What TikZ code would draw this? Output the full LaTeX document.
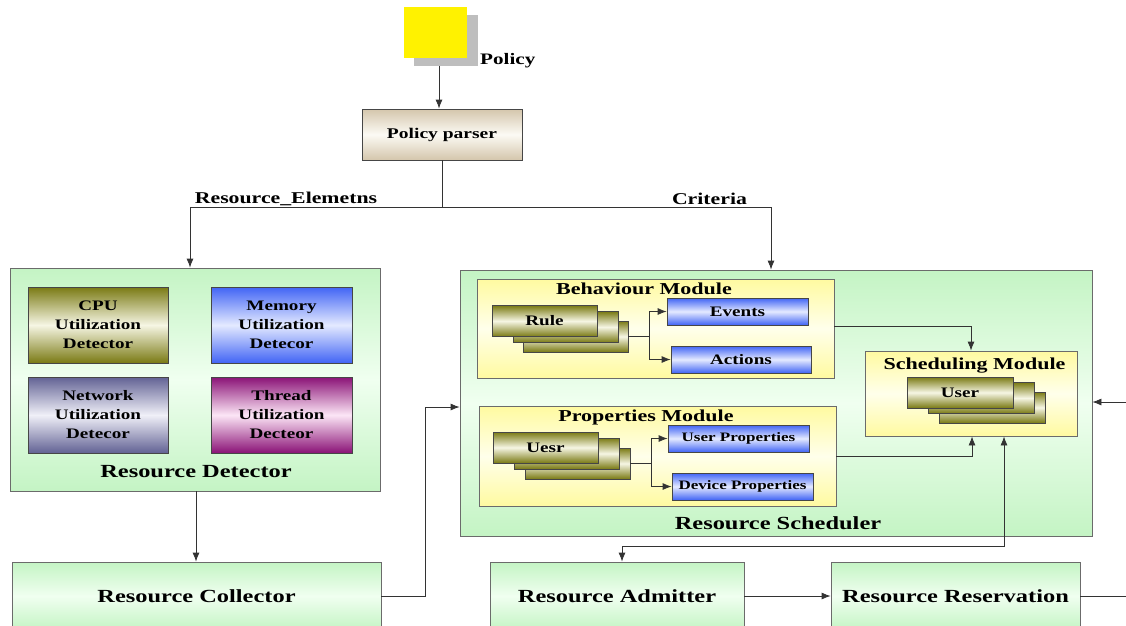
\documentclass[tikz,border=0pt]{standalone}
\usepackage{fontspec}
\setmainfont{Liberation Serif}[FakeStretch=1.32]
\usetikzlibrary{arrows.meta,calc}
\definecolor{GL}{RGB}{196,244,196}
\definecolor{GW}{RGB}{240,255,240}
\definecolor{YL}{RGB}{255,250,160}
\definecolor{YW}{RGB}{255,255,235}
\definecolor{OL}{RGB}{122,122,20}
\definecolor{OW}{RGB}{246,246,228}
\definecolor{BL}{RGB}{65,100,245}
\definecolor{BW}{RGB}{228,234,255}
\definecolor{NL}{RGB}{98,98,148}
\definecolor{NW}{RGB}{240,240,248}
\definecolor{TL}{RGB}{138,18,118}
\definecolor{TW}{RGB}{252,230,246}
\definecolor{PL}{RGB}{212,198,172}
\definecolor{PW}{RGB}{252,250,244}
\definecolor{BD}{RGB}{70,70,70}
\definecolor{SH}{RGB}{190,190,190}
\newcommand\fsbig{\fontsize{18.5}{20}\selectfont}
\newcommand\fsttl{\fontsize{16.7}{18}\selectfont}
\newcommand\fslab{\fontsize{16.5}{18}\selectfont}
\newcommand\fssm{\fontsize{14.5}{17}\selectfont}
\newcommand\fsdet{\fontsize{14.5}{19}\selectfont}
\newcommand\fstiny{\fontsize{12.9}{14}\selectfont}
\tikzset{
  bx/.style={inner sep=0pt, align=center, font=\bfseries},
  grn/.style={bx, draw=BD!80, line width=0.8pt, top color=GL, bottom color=GL, middle color=GW},
  ylw/.style={bx, draw=BD!80, line width=0.8pt, top color=YL, bottom color=YL, middle color=YW},
  olv/.style={bx, draw=BD, line width=0.8pt, top color=OL, bottom color=OL, middle color=OW},
  blu/.style={bx, draw=BD, line width=0.8pt, top color=BL, bottom color=BL, middle color=BW},
  nwk/.style={bx, draw=BD, line width=0.8pt, top color=NL, bottom color=NL, middle color=NW},
  thr/.style={bx, draw=BD, line width=0.8pt, top color=TL, bottom color=TL, middle color=TW},
  prs/.style={bx, draw=BD, line width=0.8pt, top color=PL, bottom color=PL, middle color=PW},
  stk/.style={olv, minimum width=105pt, minimum height=31pt},
  ln/.style={line width=0.8pt, draw=black!80},
  arr/.style={ln, -{Latex[length=9pt,width=7pt]}},
  darr/.style={ln, {Latex[length=9pt,width=7pt]}-{Latex[length=9pt,width=7pt]}},
  txt/.style={inner sep=0pt, font=\bfseries}
}
\begin{document}
\begin{tikzpicture}[x=1pt,y=-1pt]
\useasboundingbox (0,0) rectangle (1126,625);
\clip (0,0) rectangle (1126,625);
\fill[white] (0,0) rectangle (1126,625);

% Policy
\node[fill=SH, minimum width=64pt, minimum height=51pt, inner sep=0pt] (psh) at (446,40.5) {};
\node[fill=yellow, minimum width=63pt, minimum height=51pt, inner sep=0pt] (pol) at (435.5,32.5) {};
\node[txt, anchor=base west, font=\bfseries\fontsize{16}{18}\selectfont] (pollab) at (480,64) {Policy};
\node[prs, minimum width=160pt, minimum height=51pt, font=\bfseries\fontsize{14.8}{17}\selectfont] (par) at (442,134.5) {Policy parser};

% Resource Detector
\node[grn, minimum width=370pt, minimum height=223pt] (det) at (195,379.5) {};
\node[olv, minimum width=140pt, minimum height=76pt, font=\bfseries\fsdet] (cpu) at (98,325) {CPU\\Utilization\\Detector};
\node[blu, minimum width=141pt, minimum height=76pt, font=\bfseries\fsdet] (mem) at (281.5,325) {Memory\\Utilization\\Detecor};
\node[nwk, minimum width=140pt, minimum height=76pt, font=\bfseries\fsdet] (net) at (98,415) {Network\\Utilization\\Detecor};
\node[thr, minimum width=141pt, minimum height=76pt, font=\bfseries\fsdet] (thd) at (281.5,415) {Thread\\Utilization\\Decteor};
\node[txt, font=\bfseries\fsbig] (detlab) at (196,472) {Resource Detector};

% Resource Scheduler
\node[grn, minimum width=632pt, minimum height=266pt] (sch) at (776,403) {};
\node[txt, font=\bfseries\fsbig] (schlab) at (778,523) {Resource Scheduler};

% Behaviour module
\node[ylw, minimum width=357pt, minimum height=99pt] (beh) at (655.5,328.5) {};
\node[txt, anchor=base, font=\bfseries\fsttl] (behlab) at (644,294) {Behaviour Module};
\node[stk] (r3) at (575.5,336.5) {};
\node[stk] (r2) at (565.5,327) {};
\node[stk, font=\bfseries\fssm] (r1) at (544.5,321) {Rule};
\node[blu, minimum width=141pt, minimum height=27pt, font=\bfseries\fssm] (ev) at (737.5,311.5) {Events};
\node[blu, minimum width=140pt, minimum height=27pt, font=\bfseries\fssm] (ac) at (741,359.5) {Actions};

% Properties module
\node[ylw, minimum width=357pt, minimum height=100pt] (prp) at (657.5,456) {};
\node[txt, anchor=base, font=\bfseries\fsttl] (prplab) at (646,421) {Properties Module};
\node[stk] (u3) at (577.5,463.5) {};
\node[stk] (u2) at (566.5,453.5) {};
\node[stk, font=\bfseries\fssm] (u1) at (545.5,447.5) {Uesr};
\node[blu, minimum width=141pt, minimum height=27pt, font=\bfseries\fstiny] (up) at (738.5,438.5) {User Properties};
\node[blu, minimum width=141pt, minimum height=27pt, font=\bfseries\fstiny] (dp) at (742.5,486.5) {Device Properties};

% Scheduling module
\node[ylw, minimum width=212pt, minimum height=85pt] (smd) at (971,393.5) {};
\node[txt, anchor=base, font=\bfseries\fsttl] (smdlab) at (974.5,369) {Scheduling Module};
\node[olv, minimum width=106pt, minimum height=31pt] (s3) at (992,407.5) {};
\node[olv, minimum width=106pt, minimum height=31pt] (s2) at (981,398) {};
\node[olv, minimum width=106pt, minimum height=31pt, font=\bfseries\fssm] (s1) at (960,392.5) {User};

% Bottom row
\node[grn, minimum width=369pt, minimum height=68pt, font=\bfseries\fsbig] (col) at (196.5,596) {Resource Collector};
\node[grn, minimum width=254pt, minimum height=68pt, font=\bfseries\fsbig] (adm) at (617,596) {Resource Admitter};
\node[grn, minimum width=249pt, minimum height=68pt, font=\bfseries\fsbig] (res) at (955.5,596) {Resource Reservation};

% Labels on the split
\node[txt, anchor=base, font=\bfseries\fslab] (lre) at (286,203) {Resource\_Elemetns};
\node[txt, anchor=base, font=\bfseries\fslab] (lcr) at (709.5,204) {Criteria};

% Connectors
\coordinate (jl) at (190,207);
\coordinate (jr) at (771,207);
\draw[arr] ([xshift=-7pt]psh.south) -- ([xshift=-7pt]psh.south |- par.north);
\draw[arr] (par.south) |- (jl) -- (jl |- det.north);
\draw[arr] (par.south) |- (jr) -- (jr |- sch.north);
\draw[arr] ([xshift=1pt]det.south) -- ([xshift=1pt]det.south |- col.north);
\draw[arr] (col.east) -- ++(44,0) |- ([yshift=-4pt]sch.west);
\draw[arr] (adm.east) -- (res.west);
\coordinate (rend) at (1126,596);
\draw[ln] (res.east) -- (rend);
\coordinate (rin) at (1126,402);
\draw[arr] (rin) -- (rin -| sch.east);

\coordinate (bb) at (649,336.5);
\draw[arr] (r3.east) -- (bb) |- (ev.west);
\draw[arr] (bb) |- (ac.west);
\coordinate (pb) at (651,463.5);
\draw[arr] (u3.east) -- (pb) |- (up.west);
\draw[arr] (pb) |- (dp.west);

\draw[arr] ([yshift=2.5pt]beh.east) -| (smd.north);
\draw[arr] (prp.east) -| ([xshift=1pt]smd.south);
\draw[darr] ([xshift=5pt]adm.north) -- ++(0,-15) -| ([xshift=33pt]smd.south);
\end{tikzpicture}
\end{document}
